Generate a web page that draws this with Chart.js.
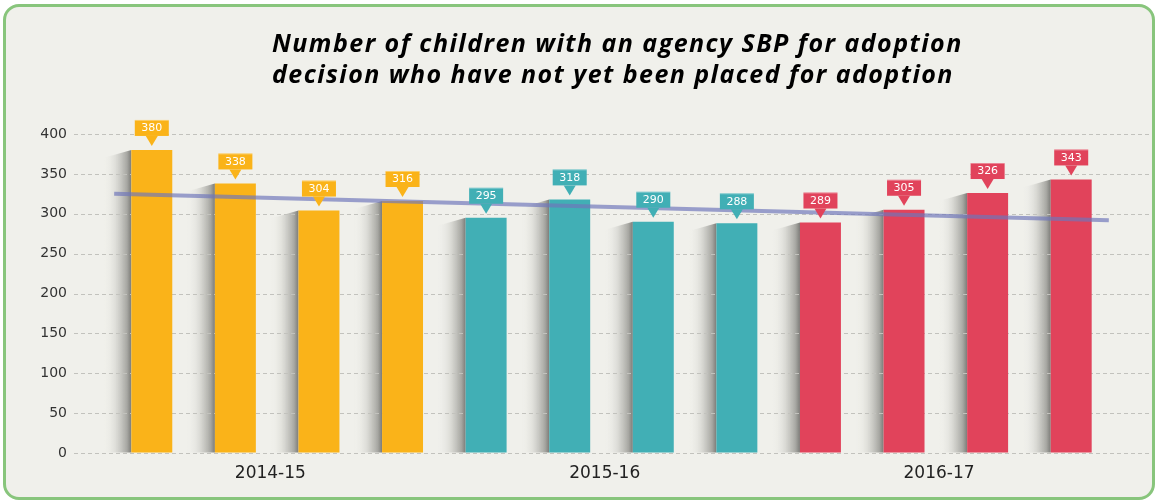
<!DOCTYPE html>
<html>
<head>
<meta charset="utf-8">
<script src="https://cdn.jsdelivr.net/npm/chart.js@4/dist/chart.umd.min.js"></script>
<style>
  html, body { margin: 0; padding: 0; background: #ffffff; }
  #frame {
    position: absolute; left: 3px; top: 4px; width: 1146px; height: 490px;
    border: 3px solid #88c57c; border-radius: 16px; background: #f0f0eb;
  }
  #chart { position: absolute; left: 0; top: 0; }
</style>
</head>
<body>
<div id="frame"></div>
<canvas id="chart" width="1155" height="500"></canvas>
<script>
// chart data
const titleLines = [
  'Number of children with an agency SBP for adoption',
  'decision who have not yet been placed for adoption'
];
const years = ['2014-15', '2015-16', '2016-17'];
const categories = [
  '2014-15', '2014-15', '2014-15', '2014-15',
  '2015-16', '2015-16', '2015-16', '2015-16',
  '2016-17', '2016-17', '2016-17', '2016-17'
];
const values = [380, 338, 304, 316, 295, 318, 290, 288, 289, 305, 326, 343];
const yearColors = ['#fab319', '#41afb5', '#e1435b'];
// trend line end points (x = bar index)
const trendPoints = [{ x: -0.45, y: 325 }, { x: 11.45, y: 292 }];
const yTicks = [0, 50, 100, 150, 200, 250, 300, 350, 400];

const barColors = categories.map((c) => yearColors[years.indexOf(c)]);

// shadow on the left of each bar + dashed grid lines
const backdropPlugin = {
  id: 'backdrop',
  beforeDatasetsDraw(chart) {
    const ctx = chart.ctx;
    const meta = chart.getDatasetMeta(0);
    ctx.save();
    meta.data.forEach((bar) => {
      const left = bar.x - bar.width / 2;
      const w = 28;
      const grad = ctx.createLinearGradient(left - w, 0, left, 0);
      grad.addColorStop(0, 'rgba(240,240,235,0)');
      grad.addColorStop(0.45, 'rgba(215,215,210,0.8)');
      grad.addColorStop(0.85, '#a6a6a1');
      grad.addColorStop(1, '#7c7c78');
      ctx.fillStyle = grad;
      ctx.beginPath();
      ctx.moveTo(left - w, bar.y + 8);
      ctx.lineTo(left, bar.y);
      ctx.lineTo(left, bar.base);
      ctx.lineTo(left - w, bar.base);
      ctx.closePath();
      ctx.fill();
    });
    const y = chart.scales.y;
    ctx.strokeStyle = '#c2c2bd';
    ctx.lineWidth = 1;
    ctx.setLineDash([4, 3]);
    yTicks.forEach((t) => {
      const py = Math.round(y.getPixelForValue(t)) + 0.5;
      ctx.beginPath();
      ctx.moveTo(74, py);
      ctx.lineTo(1152, py);
      ctx.stroke();
    });
    ctx.restore();
  }
};

// value callouts and title
const calloutPlugin = {
  id: 'callouts',
  afterDatasetsDraw(chart) {
    const ctx = chart.ctx;
    const meta = chart.getDatasetMeta(0);
    ctx.save();
    meta.data.forEach((bar, i) => {
      const tip = bar.y - 4;
      const boxBottom = tip - 10;
      const boxTop = boxBottom - 16;
      ctx.fillStyle = barColors[i];
      ctx.fillRect(bar.x - 17, boxTop, 34, 16);
      ctx.beginPath();
      ctx.moveTo(bar.x - 6, boxBottom);
      ctx.lineTo(bar.x + 6, boxBottom);
      ctx.lineTo(bar.x, tip);
      ctx.closePath();
      ctx.fill();
      ctx.fillStyle = 'rgba(255,255,255,0.35)';
      ctx.fillRect(bar.x - 17, boxTop, 34, 1);
      ctx.fillStyle = '#ffffff';
      ctx.font = '11px "DejaVu Sans"';
      ctx.textAlign = 'center';
      ctx.textBaseline = 'middle';
      ctx.fillText(String(values[i]), bar.x, boxTop + 8.5);
    });
    ctx.fillStyle = '#000000';
    ctx.font = 'italic bold 25px "Open Sans"';
    ctx.letterSpacing = '1.45px';
    ctx.textAlign = 'left';
    ctx.textBaseline = 'middle';
    ctx.fillText(titleLines[0], 272, 45);
    ctx.fillText(titleLines[1], 272, 76);
    ctx.restore();
  }
};

new Chart(document.getElementById('chart'), {
  type: 'bar',
  data: {
    labels: categories,
    datasets: [
      {
        type: 'bar',
        data: values,
        backgroundColor: barColors,
        categoryPercentage: 1,
        barPercentage: 0.49,
        grouped: false,
        order: 1
      },
      {
        type: 'line',
        data: trendPoints,
        xAxisID: 'xt',
        borderColor: 'rgba(110,118,186,0.68)',
        borderWidth: 4,
        pointRadius: 0,
        fill: false,
        order: 0
      }
    ]
  },
  options: {
    responsive: false,
    animation: false,
    layout: { padding: { top: 134, right: 42, bottom: 0, left: 0 } },
    plugins: { legend: { display: false }, tooltip: { enabled: false } },
    scales: {
      x: {
        grid: { display: false, drawTicks: false },
        border: { display: false },
        afterFit: (scale) => { scale.height = 47; },
        ticks: {
          autoSkip: false,
          maxRotation: 0,
          padding: 10,
          labelOffset: 35,
          color: '#222222',
          font: { family: 'DejaVu Sans', size: 17 },
          callback: (v, i) => (i % 4 === 1 ? categories[i] : '')
        }
      },
      xt: {
        type: 'linear',
        position: 'chartArea',
        offset: false,
        min: -0.5,
        max: 11.5,
        grid: { display: false, drawTicks: false },
        border: { display: false },
        ticks: { display: false }
      },
      y: {
        min: 0,
        max: 400,
        // invisible tick marks push the labels left without adding vertical padding
        grid: {
          display: true,
          drawOnChartArea: false,
          drawTicks: true,
          tickLength: 36,
          tickColor: 'rgba(0,0,0,0)'
        },
        border: { display: false },
        afterFit: (scale) => { scale.width = 110; },
        ticks: {
          stepSize: 50,
          padding: 7,
          color: '#333333',
          font: { family: 'DejaVu Sans', size: 14 }
        }
      }
    }
  },
  plugins: [backdropPlugin, calloutPlugin]
});
</script>
</body>
</html>
